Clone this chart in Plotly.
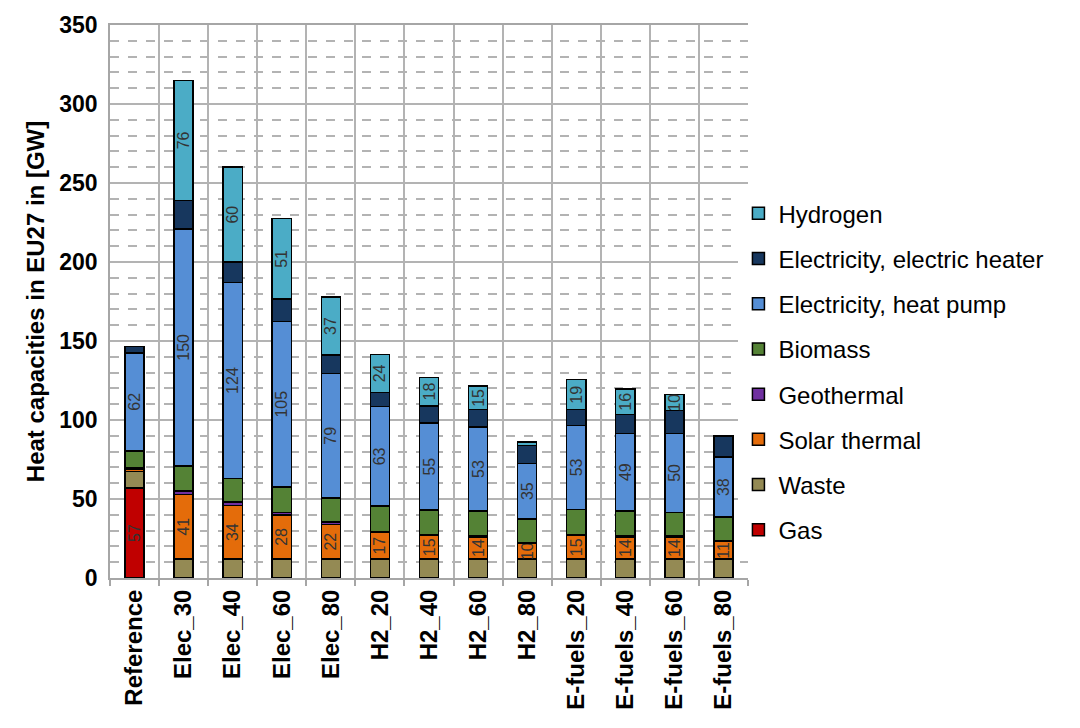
import plotly.graph_objects as go

# Scenarios on the x axis
scenarios = ["Reference", "Elec_30", "Elec_40", "Elec_60", "Elec_80",
             "H2_20", "H2_40", "H2_60", "H2_80",
             "E-fuels_20", "E-fuels_40", "E-fuels_60", "E-fuels_80"]

# Installed heat capacities per technology in GW (stacked bottom to top)
gas = [57, 0, 0, 0, 0, 0, 0, 0, 0, 0, 0, 0, 0]
waste = [10.5, 12, 12, 12, 12, 12, 12, 12, 12, 12, 12, 12, 12]
solar_thermal = [1.5, 41, 34, 28, 22, 17, 15, 14, 10, 15, 14, 14, 11]
geothermal = [0.5, 2, 2, 1.5, 1.5, 0.5, 0.5, 0.5, 0.5, 0.5, 0.5, 0.5, 0.5]
biomass = [11, 16, 15, 16, 15, 16, 15.5, 16, 15, 16, 16, 15, 15]
heat_pump = [62, 150, 124, 105, 79, 63, 55, 53, 35, 53, 49, 50, 38]
electric_heater = [4, 18, 13, 14, 11.5, 9, 11, 11, 11.5, 10, 12, 14.5, 13]
hydrogen = [0, 76, 60, 51, 37, 24, 18, 15, 2, 19, 16, 10, 0.5]

series = [
    ("Gas", gas, "#c00000", True),
    ("Waste", waste, "#948a54", False),
    ("Solar thermal", solar_thermal, "#e46c0a", True),
    ("Geothermal", geothermal, "#7030a0", False),
    ("Biomass", biomass, "#548235", False),
    ("Electricity, heat pump", heat_pump, "#558ed5", True),
    ("Electricity, electric heater", electric_heater, "#17375e", False),
    ("Hydrogen", hydrogen, "#4bacc6", True),
]

FONT = "Liberation Sans, Arial, sans-serif"

fig = go.Figure()
n = len(series)
for i, (name, vals, color, labelled) in enumerate(series):
    text = [f"{v:.0f}" if (labelled and v >= 10) else "" for v in vals]
    fig.add_trace(go.Bar(
        x=scenarios, y=vals, name=name,
        marker=dict(color=color, line=dict(color="#000000", width=1.5)),
        text=text, textposition="inside", textangle=-90,
        insidetextanchor="middle",
        textfont=dict(family=FONT, size=16, color="#333333"),
        legendgroup=f"g{i}",
        legendrank=n - i,
        hoverinfo="x+y+name",
    ))

fig.update_layout(
    barmode="stack",
    bargap=0.61,
    width=1080, height=728,
    margin=dict(l=110, r=332, t=21, b=150),
    paper_bgcolor="white", plot_bgcolor="white",
    font=dict(family=FONT, color="#000000"),
    uniformtext=dict(minsize=15, mode="show"),
    legend=dict(
        x=0.985, y=0.373, xanchor="left", yanchor="middle",
        traceorder="grouped", tracegroupgap=11,
        font=dict(family=FONT, size=24, color="#000000"),
        itemwidth=30,
    ),
    showlegend=True,
)

fig.update_xaxes(
    type="category",
    tickson="boundaries",
    ticks="outside", ticklen=6, tickcolor="#a6a6a6", tickwidth=1.5,
    tickangle=-90,
    tickfont=dict(family=FONT, size=24, color="#000000", weight="bold"),
    showgrid=True, gridcolor="#b3b3b3", gridwidth=1.5,
    showline=True, linecolor="#a6a6a6", linewidth=2,
    mirror=True,
)

fig.update_yaxes(
    range=[0, 350],
    dtick=50,
    tickfont=dict(family=FONT, size=23, color="#000000", weight="bold"),
    showgrid=True, gridcolor="#b3b3b3", gridwidth=1.5,
    minor=dict(dtick=10, showgrid=True, gridcolor="#b3b3b3",
               griddash="dash", gridwidth=1.5),
    showline=True, linecolor="#a6a6a6", linewidth=1.5,
    zeroline=False,
    ticks="", ticklabelstandoff=6,
    title=dict(text="Heat capacities in EU27 in [GW]",
               font=dict(family=FONT, size=24, color="#000000", weight="bold"),
               standoff=8),
)

fig.write_html("out.html")
